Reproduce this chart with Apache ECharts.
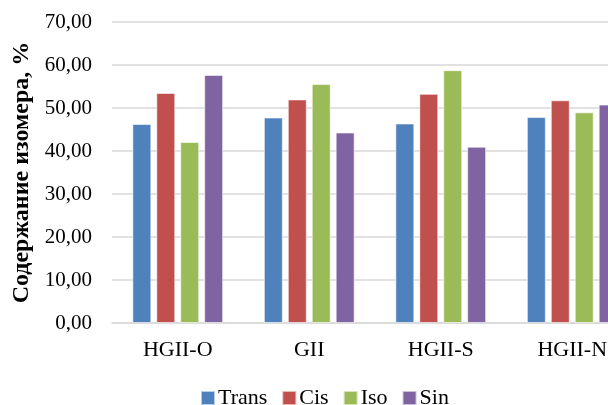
<!DOCTYPE html>
<html><head><meta charset="utf-8">
<script src="https://cdn.jsdelivr.net/npm/echarts@6/dist/echarts.min.js"></script>
<style>html,body{margin:0;padding:0;overflow:hidden;background:#fff;width:608px;height:405px}#c{width:640px;height:405px}</style>
</head><body><div id="c"></div>
<script>
const categories = ['HGII-O', 'GII', 'HGII-S', 'HGII-N'];
const seriesNames = ['Trans', 'Cis', 'Iso', 'Sin'];
const trans = [46.3, 47.8, 46.4, 47.9];
const cis = [53.5, 52.0, 53.3, 51.8];
const iso = [42.1, 55.6, 58.8, 49.0];
const sin = [57.7, 44.3, 41.0, 50.8];
const colors = ['#4F81BD', '#C0504D', '#9BBB59', '#8064A2'];
const values = [trans, cis, iso, sin];
const font = 'Liberation Serif';

const chart = echarts.init(document.getElementById('c'), null, {renderer: 'canvas'});
chart.setOption({
  animation: false,
  textStyle: {fontFamily: font},
  grid: {left: 112, right: 2, top: 22, bottom: 82},
  legend: {
    data: seriesNames, left: 195, top: 382, itemWidth: 14, itemHeight: 14, itemGap: 14,
    icon: 'rect',
    textStyle: {fontFamily: font, fontSize: 22, color: '#000', padding: [0, 0, 0, -2]}
  },
  xAxis: {
    type: 'category', data: categories,
    axisLine: {lineStyle: {color: '#D9D9D9', width: 1.5}},
    axisTick: {show: false},
    axisLabel: {fontFamily: font, fontSize: 22, color: '#000', margin: 16}
  },
  yAxis: {
    type: 'value', min: 0, max: 70, interval: 10,
    name: 'Содержание изомера, %', nameLocation: 'middle', nameGap: 78,
    nameTextStyle: {fontFamily: font, fontSize: 24, fontWeight: 'bold', color: '#000'},
    axisLine: {show: false}, axisTick: {show: false},
    axisLabel: {fontFamily: font, fontSize: 21, color: '#000', margin: 20,
      formatter: v => v.toFixed(2).replace('.', ',')},
    splitLine: {lineStyle: {color: '#D9D9D9', width: 1.5}}
  },
  series: seriesNames.map((n, i) => ({
    name: n, type: 'bar', data: values[i], barWidth: 19, barGap: '26%',
    itemStyle: {color: colors[i], borderColor: 'rgba(255,255,255,0.6)', borderWidth: 1}
  }))
});
</script></body></html>
